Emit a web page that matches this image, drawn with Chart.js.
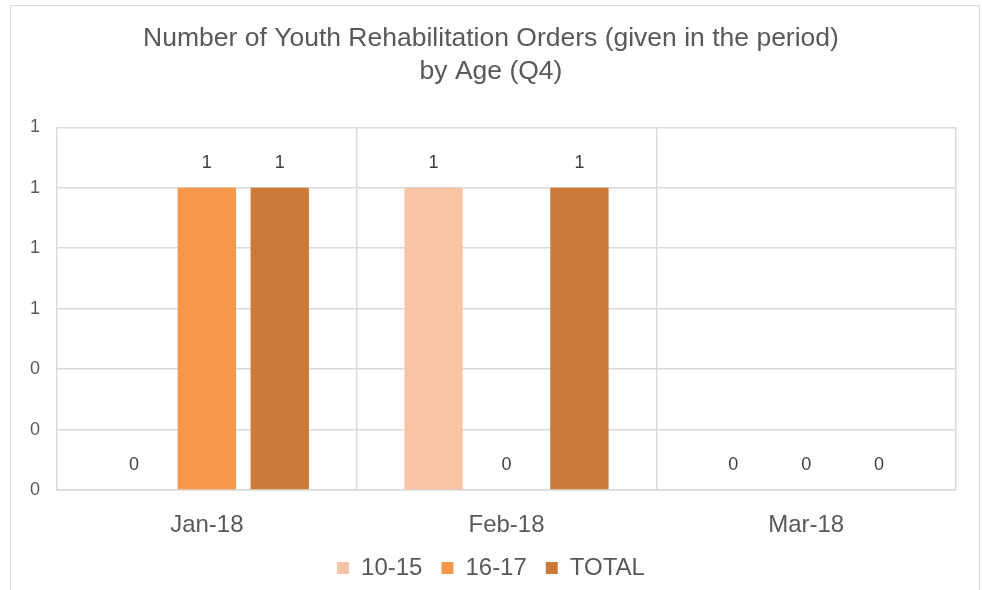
<!DOCTYPE html>
<html lang="en">
<head>
    <meta charset="UTF-8">
    <title>Youth Rehabilitation Orders by Age</title>
    <script src="https://cdn.jsdelivr.net/npm/chart.js"></script>
    <style>
        html, body { margin: 0; padding: 0; background: #fff; }
        #wrap { position: relative; width: 982px; height: 590px; overflow: hidden; }
        #frame { position: absolute; left: 10px; top: 5px; width: 968px; height: 600px; border: 1px solid #d9d9d9; }
        #chart { position: absolute; left: 0; top: 0; }
    </style>
</head>
<body>
<div id="wrap">
    <div id="frame"></div>
    <canvas id="chart" width="982" height="590"></canvas>
</div>
<script>
    const months = ['Jan-18', 'Feb-18', 'Mar-18'];
    const age10to15 = [0, 1, 0];
    const age16to17 = [1, 0, 0];
    const totals = [1, 1, 0];
    const yTicks = [0, 0.2, 0.4, 0.6, 0.8, 1.0, 1.2];

    const fontFamily = '"Liberation Sans", Arial, sans-serif';

    // value labels above each bar
    const valueLabels = {
        id: 'valueLabels',
        afterDatasetsDraw(chart) {
            const ctx = chart.ctx;
            ctx.save();
            ctx.font = '18px ' + fontFamily;
            ctx.fillStyle = '#404040';
            ctx.textAlign = 'center';
            ctx.textBaseline = 'middle';
            chart.data.datasets.forEach((ds, i) => {
                chart.getDatasetMeta(i).data.forEach((bar, j) => {
                    ctx.fillText(Math.round(ds.data[j]), bar.x, bar.y - 25);
                });
            });
            ctx.restore();
        }
    };

    const gridColor = '#d9d9d9';

    new Chart(document.getElementById('chart'), {
        type: 'bar',
        data: {
            labels: months,
            datasets: [
                { label: '10-15', data: age10to15, backgroundColor: '#f9c4a6' },
                { label: '16-17', data: age16to17, backgroundColor: '#f59849' },
                { label: 'TOTAL', data: totals, backgroundColor: '#cb7a39' }
            ]
        },
        options: {
            responsive: false,
            animation: false,
            barPercentage: 0.8,
            categoryPercentage: 0.73,
            layout: { padding: { left: 26, right: 26, top: 10, bottom: 0 } },
            plugins: {
                title: {
                    display: true,
                    text: ['Number of Youth Rehabilitation Orders (given in the period)', 'by Age (Q4)'],
                    color: '#595959',
                    font: { family: fontFamily, size: 26.5, weight: 'normal', lineHeight: 1.25 },
                    padding: { top: 12, bottom: 39 }
                },
                legend: {
                    position: 'bottom',
                    labels: {
                        color: '#595959',
                        boxWidth: 12,
                        boxHeight: 12,
                        padding: 19,
                        font: { family: fontFamily, size: 24, lineHeight: 1 }
                    }
                },
                tooltip: { enabled: false }
            },
            scales: {
                x: {
                    afterFit: scale => { scale.height = 47; },
                    grid: { color: gridColor, lineWidth: 1.5, drawTicks: false, offset: true },
                    border: { color: gridColor, width: 1.5 },
                    ticks: {
                        color: '#595959',
                        padding: 23,
                        font: { family: fontFamily, size: 24, lineHeight: 1 }
                    }
                },
                y: {
                    min: 0,
                    max: 1.2,
                    afterBuildTicks: scale => { scale.ticks = yTicks.map(v => ({ value: v })); },
                    afterFit: scale => { scale.width = 31; },
                    grid: { color: gridColor, lineWidth: 1.5, drawTicks: false },
                    border: { display: false },
                    ticks: {
                        color: '#595959',
                        padding: 17,
                        callback: v => Math.round(v),
                        font: { family: fontFamily, size: 18 }
                    }
                }
            }
        },
        plugins: [valueLabels]
    });
</script>
</body>
</html>
